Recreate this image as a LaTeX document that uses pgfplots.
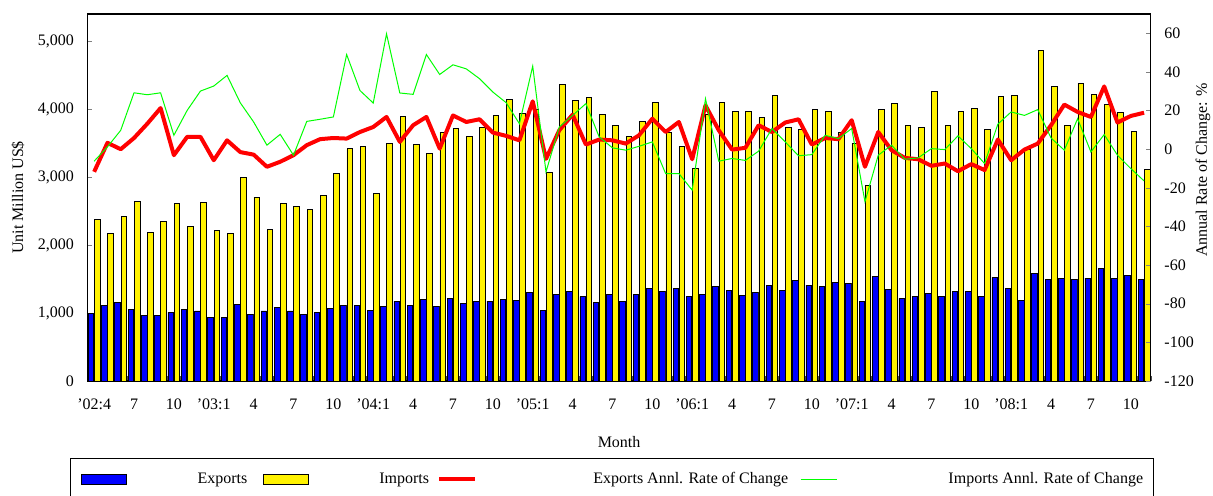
\documentclass[border=0pt]{standalone}
\usepackage{fontspec}
\setmainfont{Liberation Serif}
\usepackage{pgfplots}
\pgfplotsset{compat=1.18}
\usepackage{pgfplotstable}
\pgfplotsset{
  shortline/.style={legend image code/.code={\draw[##1] (0pt,0pt) -- (18pt,0pt);}},
  bluebox/.style={legend image code/.code={\draw[fill=blue,draw=black,line width=0.4pt] (0pt,-2.5pt) rectangle (22.5pt,2.5pt);}},
  yellowbox/.style={legend image code/.code={\draw[fill=yellow,draw=black,line width=0.4pt] (0pt,-2.5pt) rectangle (22.5pt,2.5pt);}},
}

\pgfplotstableread{
m exp imp exr imr
0 1000 2378 -11.7 -6.2
1 1118 2172 3.3 1.2
2 1162 2426 0.0 9.8
3 1059 2642 5.8 29.2
4 960 2186 13.2 28.2
5 960 2348 21.3 29.2
6 1010 2613 -3.1 7.2
7 1059 2279 6.4 20.1
8 1030 2627 6.4 30.1
9 936 2211 -5.7 32.7
10 936 2172 4.6 38.2
11 1132 2995 -1.5 24.0
12 985 2706 -2.8 14.1
13 1030 2230 -9.1 2.1
14 1083 2613 -6.5 7.7
15 1030 2569 -3.1 -3.1
16 985 2525 2.1 14.4
17 1010 2730 5.2 15.5
18 1069 3049 5.8 16.7
19 1118 3417 5.5 49.0
20 1118 3451 8.9 30.4
21 1040 2760 11.5 23.9
22 1093 3500 16.7 59.7
23 1172 3893 3.8 29.1
24 1118 3481 12.4 28.4
25 1206 3348 16.7 49.0
26 1098 3662 0.3 38.7
27 1221 3716 17.5 43.7
28 1143 3598 14.1 41.6
29 1176 3730 15.5 36.5
30 1176 3907 8.6 29.6
31 1201 4147 6.9 24.1
32 1191 3936 4.6 13.2
33 1304 4000 24.8 43.0
34 1044 3068 -5.0 -11.7
35 1270 4358 9.8 11.5
36 1319 4127 17.9 17.5
37 1240 4171 2.4 23.6
38 1157 3922 5.0 6.4
39 1270 3760 4.6 0.7
40 1172 3593 2.9 -0.5
41 1270 3814 7.2 1.5
42 1363 4093 15.8 3.8
43 1319 3657 8.9 -12.6
44 1363 3451 14.1 -12.6
45 1245 3127 -5.2 -21.2
46 1279 3926 22.7 26.1
47 1397 4098 9.8 -6.2
48 1338 3961 -0.2 -4.8
49 1265 3961 0.7 -5.8
50 1304 3873 12.4 -1.0
51 1407 4206 8.9 10.7
52 1338 3730 13.8 3.8
53 1485 3701 15.5 -3.4
54 1412 3995 2.4 -2.8
55 1397 3961 5.8 7.2
56 1446 3657 5.2 5.5
57 1436 3495 15.0 10.7
58 1172 2873 -9.1 -27.2
59 1534 3995 8.9 -3.1
60 1348 4083 -0.5 2.1
61 1216 3760 -4.5 -5.2
62 1240 3730 -5.2 -4.5
63 1289 4255 -8.6 0.3
64 1245 3755 -7.4 -0.2
65 1319 3966 -11.4 6.9
66 1319 4015 -7.7 0.3
67 1245 3701 -10.8 -7.4
68 1525 4186 5.0 13.0
69 1368 4206 -5.7 19.3
70 1181 3407 -0.2 17.5
71 1588 4858 2.9 20.5
72 1500 4338 12.4 5.8
73 1510 3765 23.1 -0.5
74 1500 4378 19.3 15.8
75 1515 4221 16.7 -1.4
76 1662 4074 32.5 7.6
77 1510 3951 13.8 -3.1
78 1559 3672 17.2 -10.0
79 1500 3118 18.9 -16.4
}\datatable

\begin{document}
\fontsize{8}{10}\selectfont
\begin{tikzpicture}
\begin{axis}[
  at={(43.75pt,-7pt)}, anchor=north west,
  scale only axis, width=531.6pt, height=183.5pt,
  xmin=-0.5, xmax=79.5, ymin=0, ymax=5400,
  ybar=0.3pt, bar width=2.8pt,
  axis line style={line width=0.6pt},
  ytick pos=left, xtick pos=bottom,
  tick align=inside, major tick length=2.5pt, minor tick length=2.5pt,
  xtick={0,3,...,78},
  xticklabels={'02:4,7,10,'03:1,4,7,10,'04:1,4,7,10,'05:1,4,7,10,'06:1,4,7,10,'07:1,4,7,10,'08:1,4,7,10},
  major x tick style={draw=none},
  minor xtick={-0.5,0.5,...,79.5},
  minor x tick style={black!70},
  xticklabel style={yshift=-6pt},
  ytick={0,1000,...,5000},
  scaled y ticks=false,
  /pgf/number format/assume math mode=true,
  yticklabel style={/pgf/number format/1000 sep={,}, xshift=-4pt},
  xlabel={Month},
  xlabel style={yshift=-8pt},
  ylabel={Unit Million US\$},
  every axis y label/.style={at={(axis description cs:-0.0654,0.5)}, rotate=90, anchor=center},
]
\addplot[fill=blue, draw=black, line width=0.4pt] table[x=m,y=exp]{\datatable};
\addplot[fill=yellow, draw=black, line width=0.4pt] table[x=m,y=imp]{\datatable};
\end{axis}
\begin{axis}[
  at={(43.75pt,-7pt)}, anchor=north west,
  scale only axis, width=531.6pt, height=183.5pt,
  xmin=-0.5, xmax=79.5, ymin=-120, ymax=70,
  axis y line*=right, axis x line=none,
  axis line style={line width=0.6pt},
  tick align=inside, major tick length=2.5pt,
  ytick={-120,-100,...,60},
  /pgf/number format/assume math mode=true,
  yticklabel style={xshift=4pt},
  ylabel={Annual Rate of Change: \%},
  every axis y label/.style={at={(axis description cs:1.0492,0.575)}, rotate=90, anchor=center},
  legend columns=-1,
  legend style={at={(axis description cs:0,0)}, anchor=north west, xshift=-8.75pt, yshift=-38.5pt,
    draw=black, line width=0.5pt, fill=white, inner xsep=5pt, inner ysep=7pt,
    nodes={inner sep=0pt},
    /tikz/every odd column/.append style={column sep=0pt},
    /tikz/every even column/.append style={column sep=0pt}},
]
\addlegendimage{bluebox}
\addlegendentry{\makebox[68.5pt][r]{Exports\hspace{8pt}}}
\addlegendimage{yellowbox}
\addlegendentry{\makebox[64pt][r]{Imports\hspace{4pt}}}
\addplot[red, line width=2pt, line join=round, shortline] table[x=m,y=exr]{\datatable};
\addlegendentry{\makebox[161.5pt][r]{Exports Annl. Rate of Change\hspace{6pt}}}
\addplot[green, line width=0.5pt, shortline] table[x=m,y=imr]{\datatable};
\addlegendentry{\makebox[153pt][r]{Imports Annl. Rate of Change}}
\end{axis}
\pgfresetboundingbox
\path (0pt,0pt) rectangle (606.5pt,-248pt);
\end{tikzpicture}
\end{document}
